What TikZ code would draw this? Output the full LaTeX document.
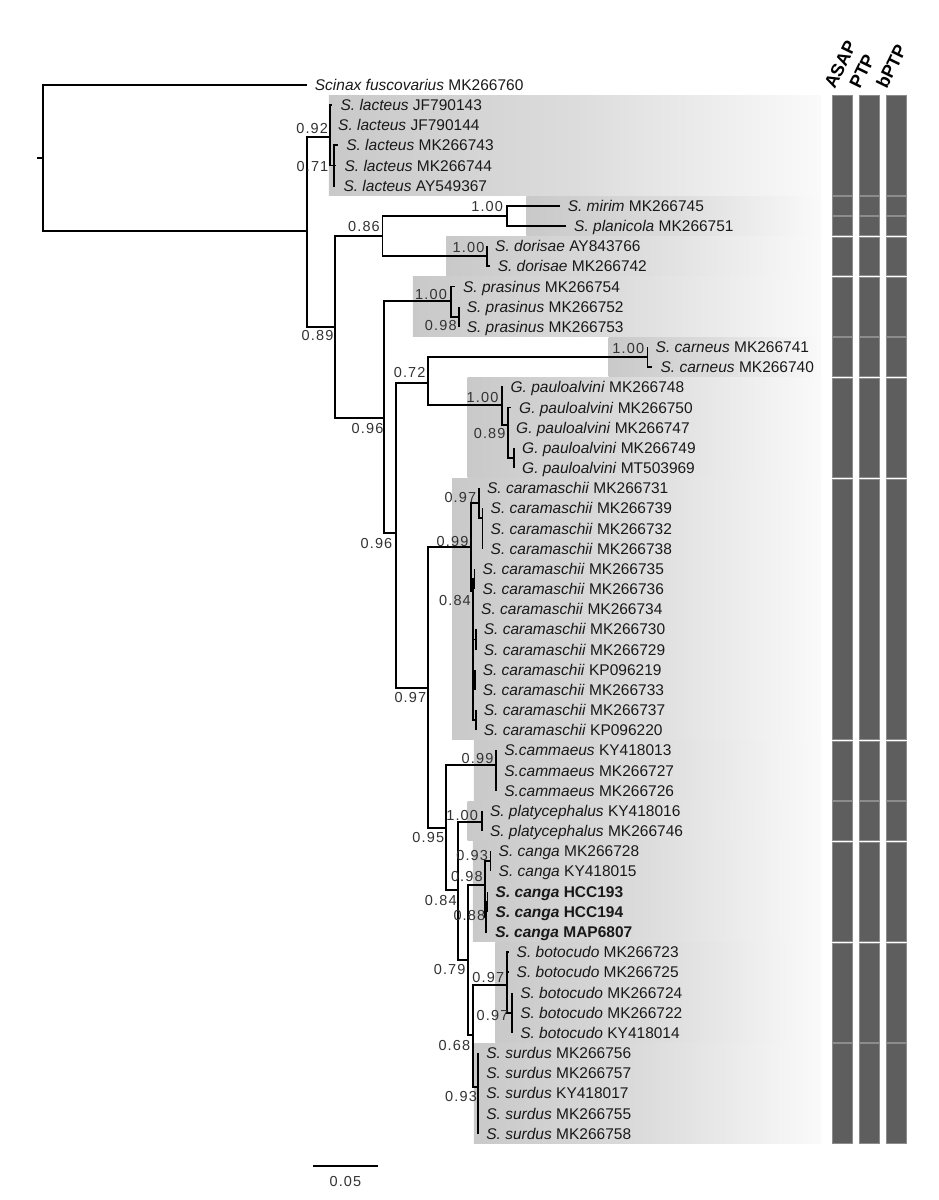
\documentclass[tikz,border=0pt]{standalone}
\usepackage{fontspec}
\setmainfont{Liberation Sans}
\newfontfamily\supfont{Liberation Sans}[LetterSpace=8]
\definecolor{barc}{HTML}{5E5E5E}
\definecolor{barline}{HTML}{8C8C8C}
\definecolor{boxL}{HTML}{C9C9C9}
\definecolor{boxM}{HTML}{DCDCDC}
\definecolor{boxR}{HTML}{FAFAFA}
\newcommand\spn[2]{\textit{#1} #2}
\begin{document}
\begin{tikzpicture}[x=1pt,y=-1pt,
  br/.style={line width=1.9pt, black},
  tip/.style={anchor=west, inner xsep=8pt, inner ysep=0pt, text height=11pt, text depth=0pt,
              font=\fontsize{15.5}{15.5}\selectfont, text=black!90},
  sup/.style={anchor=east, inner sep=0pt, text height=10.2pt, text depth=0pt,
              font=\supfont\fontsize{14.5}{14.5}\selectfont, text=black!80},
  hdr/.style={anchor=south west, inner sep=0pt, text depth=0pt, rotate=64,
              font=\bfseries\fontsize{18}{18}\selectfont},
  boxsh/.style={left color=boxL, right color=boxR, middle color=boxM},
  barseg/.style={fill=barc, draw=barline, line width=0.6pt}]
\useasboundingbox (0,0) rectangle (939,1200);
\fill[white] (0,0) rectangle (939,1200);

% ---------- shaded species boxes ----------
\foreach \l/\t/\b in {328.9/95.4/195.1, 526.4/196.2/235.4, 446/236.6/275.7, 412.9/276.9/336.2,
  608.6/337.4/376.6, 467.5/377.8/477.4, 452.1/478.6/739.6, 473.9/740.8/800.2, 467.5/801.3/840.5,
  472.9/841.7/941.3, 495.4/942.5/1042.2, 473.9/1043.4/1143.0}
  \shade[boxsh] (\l,\t) rectangle (821,\b);

% ---------- delimitation bars ----------
\foreach \bx in {832.3,859.3,886.7}
  \foreach \t/\b in {94.9/195.7, 195.7/215.9, 215.9/236.1, 236.1/276.4, 276.4/336.9, 336.9/377.3,
    377.3/478.1, 478.1/740.3, 740.3/800.8, 800.8/841.2, 841.2/942.0, 942.0/1042.9, 1042.9/1143.7}
    \path[barseg] (\bx,\t+0.8) rectangle (\bx+20,\b-0.8);

\node[hdr] (asap) at (835,90) {ASAP};
\node[hdr] (ptp) at (860,90) {PTP};
\node[hdr] (bptp) at (887,90) {bPTP};

% ---------- tips ----------
\node[tip] (t0) at (306.7,84.8) {\spn{Scinax fuscovarius}{MK266760}};
\node[tip] (t1) at (332.4,105.0) {\spn{S. lacteus}{JF790143}};
\node[tip] (t2) at (330,125.1) {\spn{S. lacteus}{JF790144}};
\node[tip] (t3) at (338.1,145.3) {\spn{S. lacteus}{MK266743}};
\node[tip] (t4) at (336.4,165.5) {\spn{S. lacteus}{MK266744}};
\node[tip] (t5) at (335.3,185.7) {\spn{S. lacteus}{AY549367}};
\node[tip] (t6) at (559.6,205.8) {\spn{S. mirim}{MK266745}};
\node[tip] (t7) at (566,226.0) {\spn{S. planicola}{MK266751}};
\node[tip] (t8) at (487,246.2) {\spn{S. dorisae}{AY843766}};
\node[tip] (t9) at (489.6,266.3) {\spn{S. dorisae}{MK266742}};
\node[tip] (t10) at (454.9,286.5) {\spn{S. prasinus}{MK266754}};
\node[tip] (t11) at (458.6,306.7) {\spn{S. prasinus}{MK266752}};
\node[tip] (t12) at (458.6,326.8) {\spn{S. prasinus}{MK266753}};
\node[tip] (t13) at (647.5,347.0) {\spn{S. carneus}{MK266741}};
\node[tip] (t14) at (652.4,367.2) {\spn{S. carneus}{MK266740}};
\node[tip] (t15) at (502.4,387.4) {\spn{G. pauloalvini}{MK266748}};
\node[tip] (t16) at (511,407.5) {\spn{G. pauloalvini}{MK266750}};
\node[tip] (t17) at (508,427.7) {\spn{G. pauloalvini}{MK266747}};
\node[tip] (t18) at (514,447.9) {\spn{G. pauloalvini}{MK266749}};
\node[tip] (t19) at (514,468.0) {\spn{G. pauloalvini}{MT503969}};
\node[tip] (t20) at (478.9,488.2) {\spn{S. caramaschii}{MK266731}};
\node[tip] (t21) at (482.5,508.4) {\spn{S. caramaschii}{MK266739}};
\node[tip] (t22) at (482.5,528.5) {\spn{S. caramaschii}{MK266732}};
\node[tip] (t23) at (482.5,548.7) {\spn{S. caramaschii}{MK266738}};
\node[tip] (t24) at (474.5,568.9) {\spn{S. caramaschii}{MK266735}};
\node[tip] (t25) at (474.5,589.1) {\spn{S. caramaschii}{MK266736}};
\node[tip] (t26) at (473,609.2) {\spn{S. caramaschii}{MK266734}};
\node[tip] (t27) at (475.7,629.4) {\spn{S. caramaschii}{MK266730}};
\node[tip] (t28) at (475.7,649.6) {\spn{S. caramaschii}{MK266729}};
\node[tip] (t29) at (474.6,669.7) {\spn{S. caramaschii}{KP096219}};
\node[tip] (t30) at (474.6,689.9) {\spn{S. caramaschii}{MK266733}};
\node[tip] (t31) at (475.7,710.1) {\spn{S. caramaschii}{MK266737}};
\node[tip] (t32) at (475.7,730.2) {\spn{S. caramaschii}{KP096220}};
\node[tip] (t33) at (496.1,750.4) {\spn{S.cammaeus}{KY418013}};
\node[tip] (t34) at (496.1,770.6) {\spn{S.cammaeus}{MK266727}};
\node[tip] (t35) at (496.1,790.8) {\spn{S.cammaeus}{MK266726}};
\node[tip] (t36) at (481.8,810.9) {\spn{S. platycephalus}{KY418016}};
\node[tip] (t37) at (481.8,831.1) {\spn{S. platycephalus}{MK266746}};
\node[tip] (t38) at (490.5,851.3) {\spn{S. canga}{MK266728}};
\node[tip] (t39) at (490.5,871.4) {\spn{S. canga}{KY418015}};
\node[tip] (t40) at (487.5,891.6) {\textbf{\spn{S. canga}{HCC193}}};
\node[tip] (t41) at (487.5,911.8) {\textbf{\spn{S. canga}{HCC194}}};
\node[tip] (t42) at (487.1,931.9) {\textbf{\spn{S. canga}{MAP6807}}};
\node[tip] (t43) at (508.5,952.1) {\spn{S. botocudo}{MK266723}};
\node[tip] (t44) at (508.5,972.3) {\spn{S. botocudo}{MK266725}};
\node[tip] (t45) at (512.1,992.5) {\spn{S. botocudo}{MK266724}};
\node[tip] (t46) at (512.1,1012.6) {\spn{S. botocudo}{MK266722}};
\node[tip] (t47) at (512.1,1032.8) {\spn{S. botocudo}{KY418014}};
\node[tip] (t48) at (478.2,1053.0) {\spn{S. surdus}{MK266756}};
\node[tip] (t49) at (478.2,1073.1) {\spn{S. surdus}{MK266757}};
\node[tip] (t50) at (478.2,1093.3) {\spn{S. surdus}{KY418017}};
\node[tip] (t51) at (478.2,1113.5) {\spn{S. surdus}{MK266755}};
\node[tip] (t52) at (478.2,1133.6) {\spn{S. surdus}{MK266758}};

% ---------- internal nodes ----------
\coordinate (Rs) at (37,157.9);
\coordinate (R) at (43,157.9);
\coordinate (N1) at (307,231);
\coordinate (L) at (330,137);
\coordinate (M) at (334,165.5);
\coordinate (N2) at (334.6,326.7);
\coordinate (N86) at (382.5,236);
\coordinate (MP) at (506.8,215.9);
\coordinate (D) at (487,256.2);
\coordinate (N3) at (384.3,417.7);
\coordinate (P) at (450.7,301);
\coordinate (Q) at (458.6,316.7);
\coordinate (N4) at (396,533.3);
\coordinate (N72) at (428.2,383.3);
\coordinate (C) at (647.5,357.1);
\coordinate (G) at (502.1,405);
\coordinate (G2) at (508,425);
\coordinate (G3) at (514,458);
\coordinate (N97) at (428.2,687.7);
\coordinate (K) at (471,547.3);
\coordinate (K1) at (478.9,503.3);
\coordinate (K1b) at (482.5,518.4);
\coordinate (K2) at (473,591.3);
\coordinate (Ka) at (474.5,579);
\coordinate (Kb) at (475.7,639.5);
\coordinate (Kc) at (474.6,679.8);
\coordinate (Kd) at (475.7,720.1);
\coordinate (N95) at (446.1,828.3);
\coordinate (Cm) at (496.1,765);
\coordinate (N84) at (458,890);
\coordinate (Pl) at (481.8,821.7);
\coordinate (N79) at (467.8,960);
\coordinate (Cg) at (485.4,885);
\coordinate (S1) at (490.5,861.4);
\coordinate (S2) at (486.4,916.8);
\coordinate (S2a) at (487.5,901.7);
\coordinate (N68) at (472.9,1035);
\coordinate (Bt) at (506.8,985);
\coordinate (Bt2) at (512.1,1012.6);
\coordinate (Sd) at (478.2,1086.7);

% ---------- branches ----------
\draw[br] (Rs) -- (R);
\foreach \p/\c in {R/N1, N1/L, N1/N2, L/M, N2/N86, N2/N3, N86/MP, N86/D, N3/P, N3/N4, P/Q,
  N4/N72, N4/N97, N72/C, N72/G, G/G2, G2/G3, N97/K, N97/N95, K/K1, K/K2, K1/K1b,
  K2/Ka, K2/Kb, K2/Kc, K2/Kd, N95/Cm, N95/N84, N84/Pl, N84/N79, N79/Cg, N79/N68,
  Cg/S1, Cg/S2, S2/S2a, N68/Bt, N68/Sd, Bt/Bt2}
  \draw[br] (\p) |- (\c);
\foreach \p/\c in {R/t0, L/t1, L/t2, M/t3, M/t4, M/t5, MP/t6, MP/t7, D/t8, D/t9, P/t10, Q/t11, Q/t12,
  C/t13, C/t14, G/t15, G2/t16, G2/t17, G3/t18, G3/t19, K1/t20, K1b/t21, K1b/t22, K1b/t23,
  Ka/t24, Ka/t25, K2/t26, Kb/t27, Kb/t28, Kc/t29, Kc/t30, Kd/t31, Kd/t32, Cm/t33, Cm/t34, Cm/t35,
  Pl/t36, Pl/t37, S1/t38, S1/t39, S2a/t40, S2a/t41, S2/t42, Bt/t43, Bt/t44, Bt2/t45, Bt2/t46, Bt2/t47,
  Sd/t48, Sd/t49, Sd/t50, Sd/t51, Sd/t52}
  \draw[br] (\p) |- (\c.west);

% ---------- support values ----------
\node[sup] (s92) at (328.2,128.3) {0.92};
\node[sup] (s71) at (328.5,166) {0.71};
\node[sup] (s89) at (333.6,335) {0.89};
\node[sup] (s86) at (380,226.7) {0.86};
\node[sup] (sMP) at (503.2,206.7) {1.00};
\node[sup] (sD) at (484.6,247.3) {1.00};
\node[sup] (sP) at (447.1,294) {1.00};
\node[sup] (sQ) at (456.8,325) {0.98};
\node[sup] (sN3) at (383.6,428.3) {0.96};
\node[sup] (s72) at (425.7,372.3) {0.72};
\node[sup] (sC) at (644.3,348.3) {1.00};
\node[sup] (sG) at (498.6,397.7) {1.00};
\node[sup] (sG2) at (505.7,433.3) {0.89};
\node[sup] (sN4) at (392.5,543.3) {0.96};
\node[sup] (sK) at (468.6,541) {0.99};
\node[sup] (sK1) at (476.4,497.3) {0.97};
\node[sup] (sK2) at (471,600.7) {0.84};
\node[sup] (sN97) at (426.4,697.3) {0.97};
\node[sup] (sCm) at (493.6,758.3) {0.99};
\node[sup] (sPl) at (478.2,815) {1.00};
\node[sup] (sN95) at (444.3,837.3) {0.95};
\node[sup] (sS1) at (488.2,855) {0.93};
\node[sup] (sCg) at (482.9,876.7) {0.98};
\node[sup] (sN84) at (456.8,900.7) {0.84};
\node[sup] (sS2) at (485.4,915.7) {0.88};
\node[sup] (sN79) at (465.7,969) {0.79};
\node[sup] (sBt) at (504.3,977.3) {0.97};
\node[sup] (sBt2) at (508.6,1015) {0.97};
\node[sup] (sN68) at (470.4,1045) {0.68};
\node[sup] (sSd) at (477.1,1096) {0.93};

% ---------- scale bar ----------
\coordinate (sb1) at (313,1165.7);
\coordinate (sb2) at (377.5,1165.7);
\draw[br] (sb1) -- (sb2);
\node[sup, anchor=center] (sbl) at (345.4,1181.7) {0.05};
\end{tikzpicture}
\end{document}
